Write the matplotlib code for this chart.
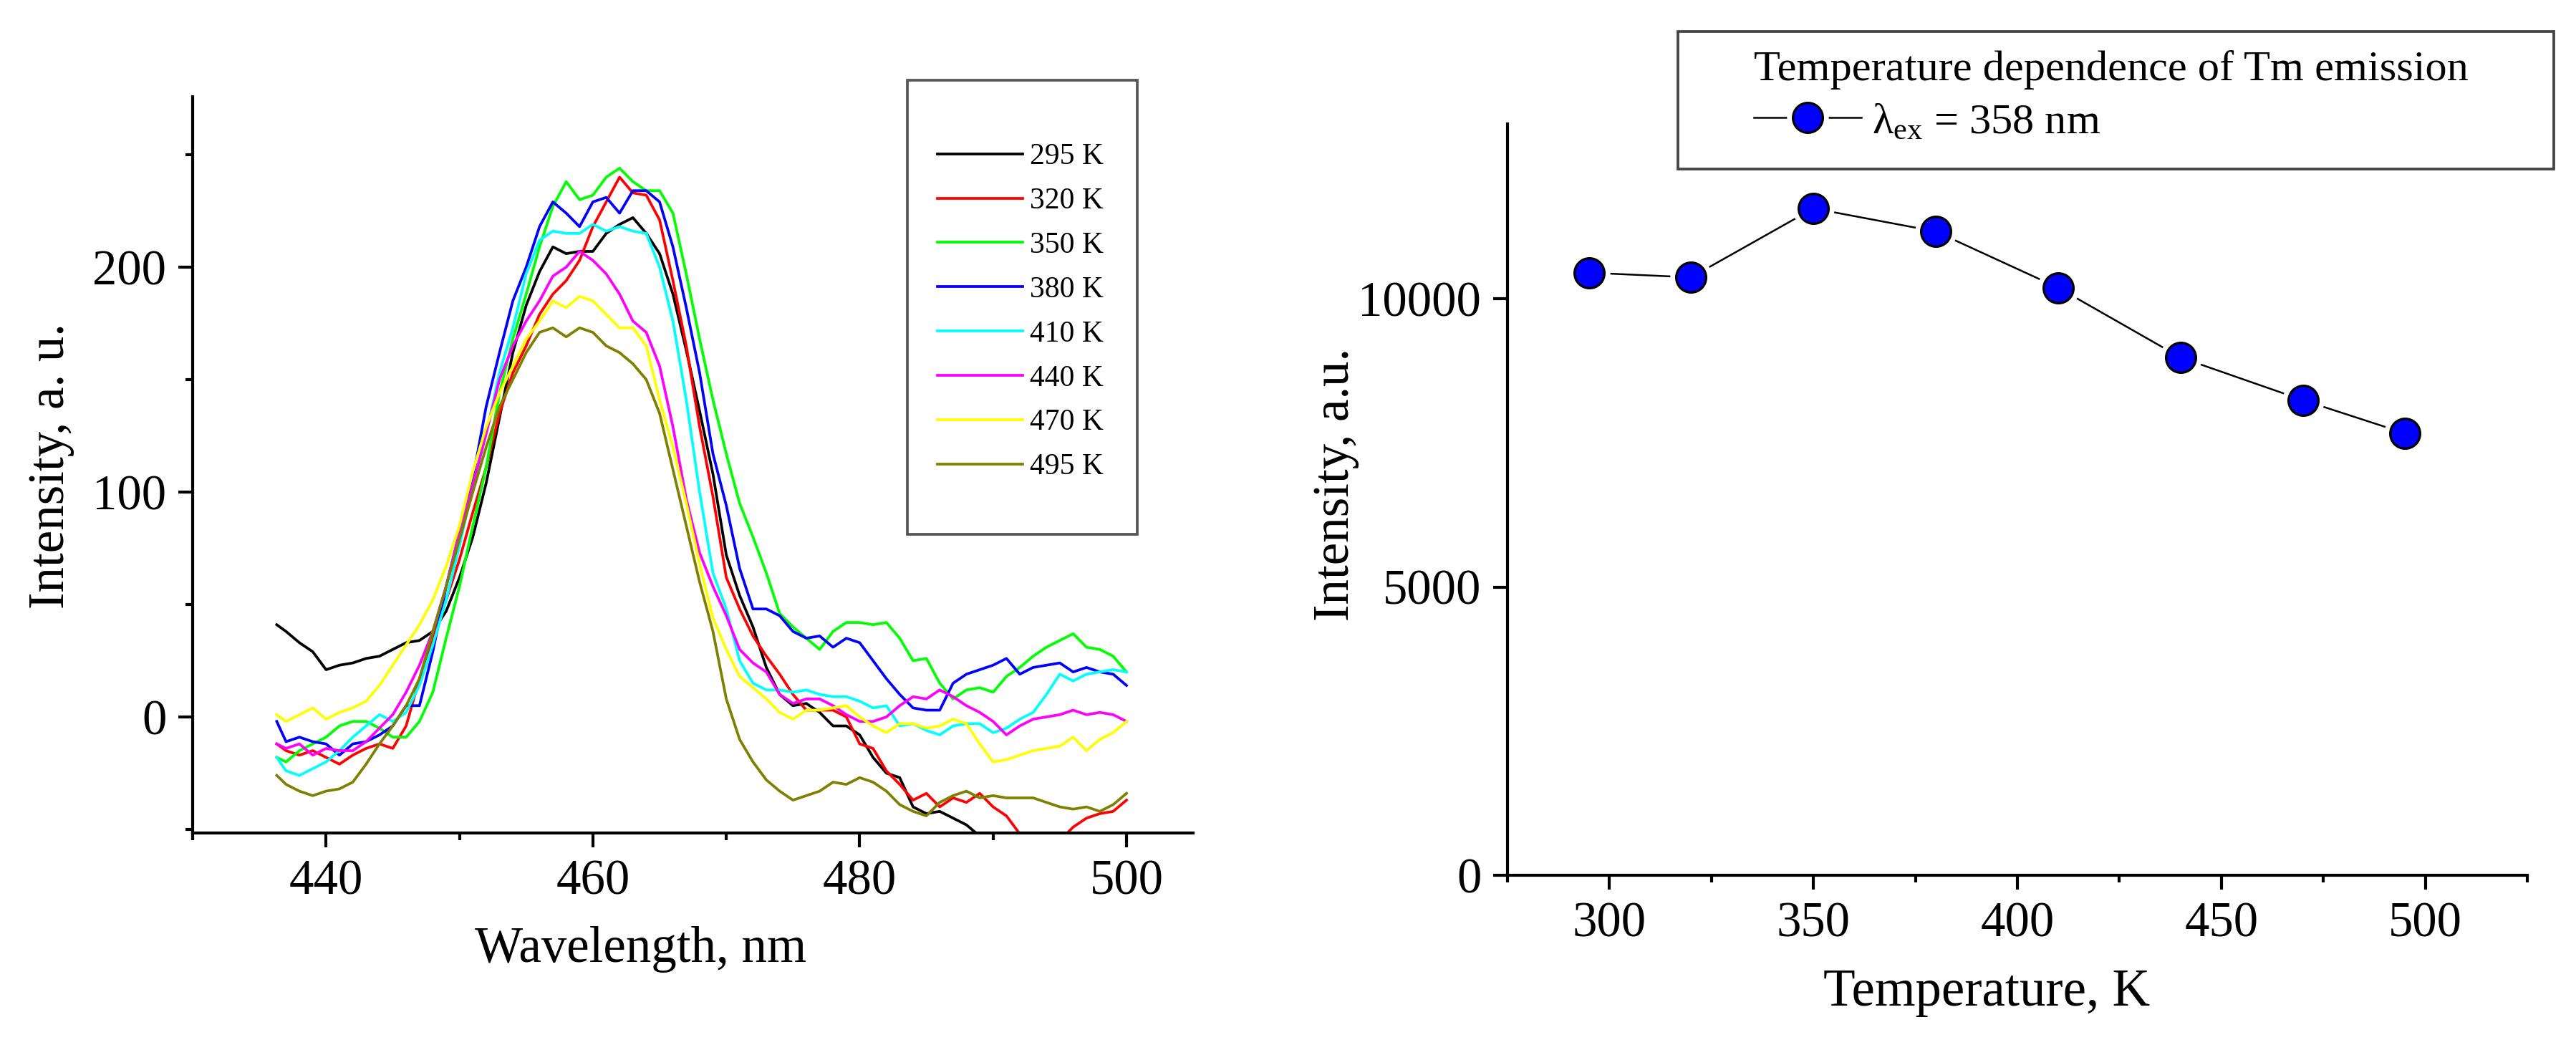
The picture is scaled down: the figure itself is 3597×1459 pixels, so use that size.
import numpy as np
import matplotlib.pyplot as plt
from matplotlib.patches import Rectangle
from matplotlib.ticker import MultipleLocator

plt.rcParams['font.family'] = ['Liberation Serif', 'DejaVu Serif']
plt.rcParams['mathtext.fontset'] = 'custom'
plt.rcParams['mathtext.rm'] = 'Liberation Serif'
plt.rcParams['mathtext.it'] = 'Liberation Serif:italic'

# emission spectra, wavelength in nm
wavelength = [436.3] + list(range(437, 501))

i_295 = [41, 38, 33, 29, 21, 23, 24, 26, 27, 30,
         33, 34, 38, 47, 62, 80, 104, 133, 162, 183,
         198, 209, 206, 207, 207, 215, 219, 222, 215, 206,
         188, 163, 136, 108, 72, 54, 40, 22, 10, 5,
         6, 2, -4, -4, -8, -18, -25, -27, -40, -43,
         -42, -45, -48, -53, -57, -59, -61, -60, -63, -62,
         -64, -63, -65, -66, -64]
i_320 = [-12, -15, -17, -15, -18, -21, -17, -14, -12, -14,
         -4, 17, 35, 52, 70, 91, 111, 135, 153, 165,
         179, 188, 194, 203, 218, 229, 240, 233, 232, 221,
         194, 165, 129, 98, 62, 48, 36, 27, 19, 10,
         3, 3, 3, 0, -12, -14, -24, -30, -37, -34,
         -40, -36, -38, -34, -40, -44, -52, -56, -58, -55,
         -49, -45, -43, -42, -37]
i_350 = [-18, -20, -15, -12, -9, -4, -2, -2, -5, -9,
         -9, -2, 11, 35, 58, 85, 111, 144, 168, 188,
         209, 227, 238, 230, 232, 240, 244, 238, 234, 234,
         224, 197, 168, 141, 117, 95, 80, 64, 46, 40,
         35, 30, 38, 42, 42, 41, 42, 35, 25, 26,
         15, 8, 12, 13, 11, 18, 22, 27, 31, 34,
         37, 31, 30, 27, 20]
i_380 = [-2, -11, -9, -11, -12, -17, -12, -11, -8, -4,
         5, 5, 29, 58, 82, 106, 138, 162, 185, 200,
         218, 229, 224, 218, 229, 231, 224, 234, 234, 229,
         209, 182, 153, 117, 94, 66, 48, 48, 45, 38,
         35, 36, 31, 35, 33, 25, 17, 10, 4, 3,
         3, 15, 19, 21, 23, 26, 19, 22, 23, 24,
         20, 22, 20, 19, 14]
i_410 = [-18, -24, -26, -23, -20, -15, -9, -4, 1, -2,
         2, 14, 32, 52, 76, 103, 126, 153, 173, 197,
         212, 216, 215, 215, 219, 216, 218, 216, 215, 200,
         176, 141, 100, 64, 48, 25, 15, 12, 12, 11,
         12, 10, 9, 9, 7, 4, 5, -4, -3, -6,
         -8, -4, -3, -3, -7, -5, -1, 2, 10, 19,
         16, 19, 20, 21, 20]
i_440 = [-12, -14, -12, -17, -14, -15, -15, -11, -5, 1,
         11, 23, 38, 58, 82, 103, 126, 150, 165, 176,
         185, 196, 200, 207, 203, 197, 188, 176, 171, 156,
         129, 97, 73, 58, 45, 30, 24, 20, 10, 6,
         8, 8, 5, 1, -2, -2, 0, 5, 9, 8,
         12, 9, 5, 2, -2, -8, -4, -1, 0, 1,
         3, 1, 2, 1, -2]
i_470 = [1, -2, 1, 4, -1, 2, 4, 7, 14, 23,
         32, 41, 52, 67, 85, 109, 129, 144, 156, 168,
         176, 185, 182, 187, 185, 179, 173, 173, 165, 141,
         120, 95, 68, 44, 30, 18, 13, 8, 2, -1,
         3, 3, 4, 5, 0, -4, -7, -3, -3, -5,
         -4, -1, -3, -12, -20, -19, -17, -15, -14, -13,
         -9, -15, -10, -7, -2]
i_495 = [-26, -30, -33, -35, -33, -32, -29, -21, -12, -4,
         5, 17, 38, 58, 79, 100, 120, 138, 150, 162,
         171, 173, 169, 173, 171, 165, 162, 157, 150, 135,
         110, 85, 60, 38, 8, -10, -20, -28, -33, -37,
         -35, -33, -29, -30, -27, -29, -33, -39, -42, -44,
         -38, -35, -33, -36, -35, -36, -36, -36, -38, -40,
         -41, -40, -42, -39, -34]

spectra = [i_295, i_320, i_350, i_380, i_410, i_440, i_470, i_495]
spectra_labels = ['295 K', '320 K', '350 K', '380 K',
                  '410 K', '440 K', '470 K', '495 K']
colors = ['black', '#ff0000', '#00ff00', '#0000ff',
          '#00ffff', '#ff00ff', '#ffff00', '#808000']

# integrated intensity vs temperature
temperature = [295, 320, 350, 380, 410, 440, 470, 495]
intensity = [10450, 10370, 11565, 11165, 10190, 8980, 8240, 7665]


def style_axes(ax):
    for side in ('top', 'right'):
        ax.spines[side].set_visible(False)
    for side in ('left', 'bottom'):
        ax.spines[side].set_linewidth(1.0)
    ax.tick_params(which='both', direction='out', width=1.0,
                   labelsize=16.5, pad=4)
    ax.tick_params(which='major', length=4.8)
    ax.tick_params(which='minor', length=2.4)


fig = plt.figure(figsize=(3597 / 300, 1459 / 300), dpi=300)

# left panel: spectra
ax1 = fig.add_axes([0.0748, 0.2029, 0.3884, 0.7046])
for vals, lab, c in zip(spectra, spectra_labels, colors):
    ax1.plot(wavelength, vals, color=c, lw=0.9, label=lab)
ax1.set_xlim(430, 505)
ax1.set_ylim(-51.6, 275.8)
ax1.xaxis.set_major_locator(MultipleLocator(20))
ax1.xaxis.set_minor_locator(MultipleLocator(10))
ax1.yaxis.set_major_locator(MultipleLocator(100))
ax1.yaxis.set_minor_locator(MultipleLocator(50))
style_axes(ax1)
ax1.set_xlabel('Wavelength, nm', fontsize=17)
ax1.set_ylabel('Intensity, a. u.', fontsize=17)
ax1.xaxis.set_label_coords(0.448, -0.1265)
ax1.yaxis.set_label_coords(-0.118, 0.498)

ax1.legend(loc='upper left', bbox_to_anchor=(0.3639, 0.863),
           bbox_transform=fig.transFigure, frameon=False, fontsize=10,
           handlelength=2.85, handletextpad=0.25, labelspacing=0.56,
           borderpad=0, borderaxespad=0)
fig.add_artist(Rectangle((0.3522, 0.4887), 0.08924, 0.4345,
                         transform=fig.transFigure, fill=False,
                         ec='#555555', lw=0.9))

# right panel: temperature dependence
ax2 = fig.add_axes([0.5852, 0.1624, 0.3959, 0.719])
conn, = ax2.plot(temperature, intensity, '-', color='black', lw=0.6,
                 zorder=2)
# white halo so the connecting line stops short of each marker
halo, = ax2.plot(temperature, intensity, 'o', ms=14, mfc='white',
                 mec='white', mew=0, zorder=3)
dots, = ax2.plot(temperature, intensity, 'o', ms=10, mfc='#0000ff',
                 mec='black', mew=0.8, zorder=4)
ax2.set_xlim(275, 525)
ax2.set_ylim(0, 13030)
ax2.xaxis.set_major_locator(MultipleLocator(50))
ax2.xaxis.set_minor_locator(MultipleLocator(25))
ax2.yaxis.set_major_locator(MultipleLocator(5000))
style_axes(ax2)
ax2.set_xlabel('Temperature, K', fontsize=17.5)
ax2.set_ylabel('Intensity, a.u.', fontsize=17)
ax2.xaxis.set_label_coords(0.470, -0.124)
ax2.yaxis.set_label_coords(-0.1454, 0.5205)

ax2.legend([(conn, halo, dots)], [r'λ$_{\mathrm{ex}}$ = 358 nm'],
           loc='upper left', bbox_to_anchor=(0.6808, 0.952),
           bbox_transform=fig.transFigure, frameon=False, fontsize=14.5,
           title='Temperature dependence of Tm emission', title_fontsize=14.5,
           alignment='left', handlelength=2.48, handletextpad=0.25,
           labelspacing=0.3, borderpad=0, borderaxespad=0)
fig.add_artist(Rectangle((0.6514, 0.8382), 0.3400, 0.1316,
                         transform=fig.transFigure, fill=False,
                         ec='#444444', lw=0.9))

fig.savefig('out.png', dpi=300)
